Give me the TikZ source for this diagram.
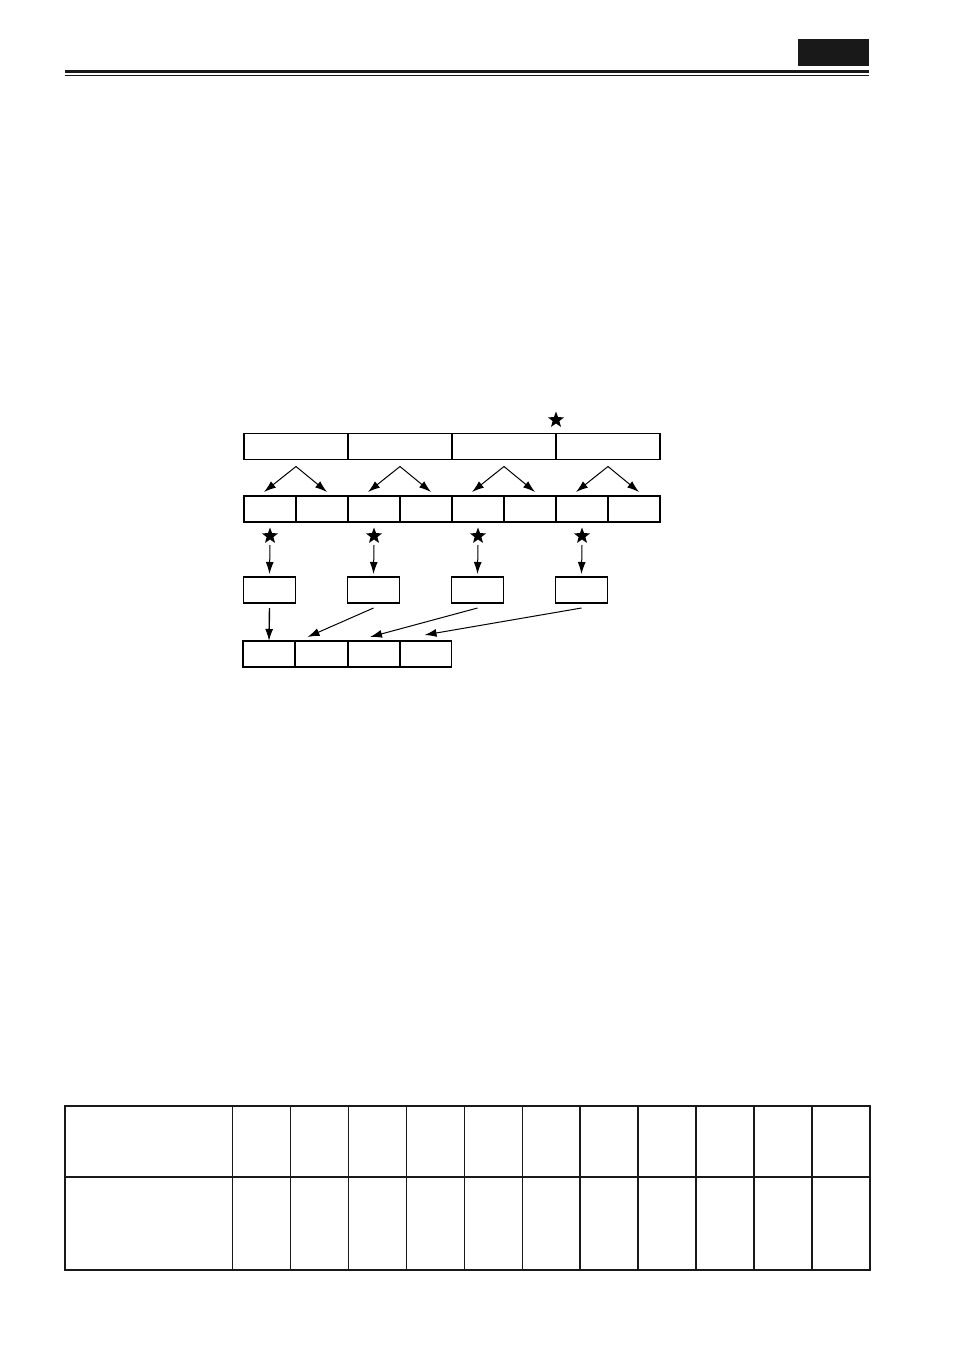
\documentclass[tikz,border=0pt]{standalone}
\usetikzlibrary{shapes.geometric,arrows.meta,calc}
\begin{document}
\begin{tikzpicture}[x=1pt,y=-1pt,
 cell/.style={draw, line width=1.4pt, minimum height=26pt, inner sep=0pt, outer sep=0pt},
 bigcell/.style={cell, minimum width=104pt},
 smallcell/.style={cell, minimum width=52pt},
 starmark/.style={star, star points=5, star point ratio=2.4, fill=black, draw=none, inner sep=0pt, minimum size=17pt},
 arr/.style={-{Latex[length=12pt,width=8pt]}, line width=1pt}]
\useasboundingbox (0,0) rectangle (953,1352);
% header
\fill[black!90] (798,39) rectangle (869,66);
\draw[line width=3pt, black!90] (65,71) -- (869,71);
\draw[line width=1.4pt, black!90] (65,75.5) -- (869,75.5);
% top row
\foreach \i/\x in {1/296,2/400,3/504,4/608}
  \node[bigcell] (t\i) at (\x,446.5) {};
\node[starmark] (s0) at (556,420) {};
% second row
\foreach \i/\x in {1/270,2/322,3/374,4/426,5/478,6/530,7/582,8/634}
  \node[smallcell] (m\i) at (\x,509) {};
% split arrows
\foreach \i/\l/\r in {1/1/2,2/3/4,3/5/6,4/7/8}{
  \coordinate (a\i) at ($(t\i.south)+(0,7)$);
  \draw[arr] (a\i) -- ($(m\l.north)+(-6,-4)$);
  \draw[arr] (a\i) -- ($(m\r.north)+(5,-4)$);
}
% stars and single boxes
\foreach \i/\x in {1/270,2/374,3/478,4/582}{
  \node[starmark] (s\i) at (\x,536) {};
  \node[smallcell] (b\i) at (\x-0.5,590) {};
  \draw[arr] ($(s\i)+(0,9)$) -- ($(b\i.north)+(0,-3)$);
}
% bottom row
\foreach \i/\x in {1/269,2/321.5,3/374,4/425.5}
  \node[smallcell] (r\i) at (\x,654) {};
\draw[arr, line width=1.4pt] ($(b1.south)+(0,5)$) -- (r1.north);
\draw[arr] ($(b2.south)+(0,5)$) -- ($(r2.north)+(-14,-4)$);
\draw[arr] ($(b3.south)+(0,5)$) -- ($(r3.north)+(-4,-4)$);
\draw[arr] ($(b4.south)+(0,5)$) -- ($(r4.north)+(-1,-6)$);
% table
\draw[line width=2pt, black!90] (65,1106) rectangle (870,1270);
\draw[line width=2pt, black!90] (65,1177) -- (870,1177);
\foreach \x in {232,290,348,406,464,522}
  \draw[line width=1pt, black!90] (\x,1106) -- (\x,1270);
\foreach \x in {580,638,696,754,812}
  \draw[line width=1.8pt, black!90] (\x,1106) -- (\x,1270);
\end{tikzpicture}
\end{document}
